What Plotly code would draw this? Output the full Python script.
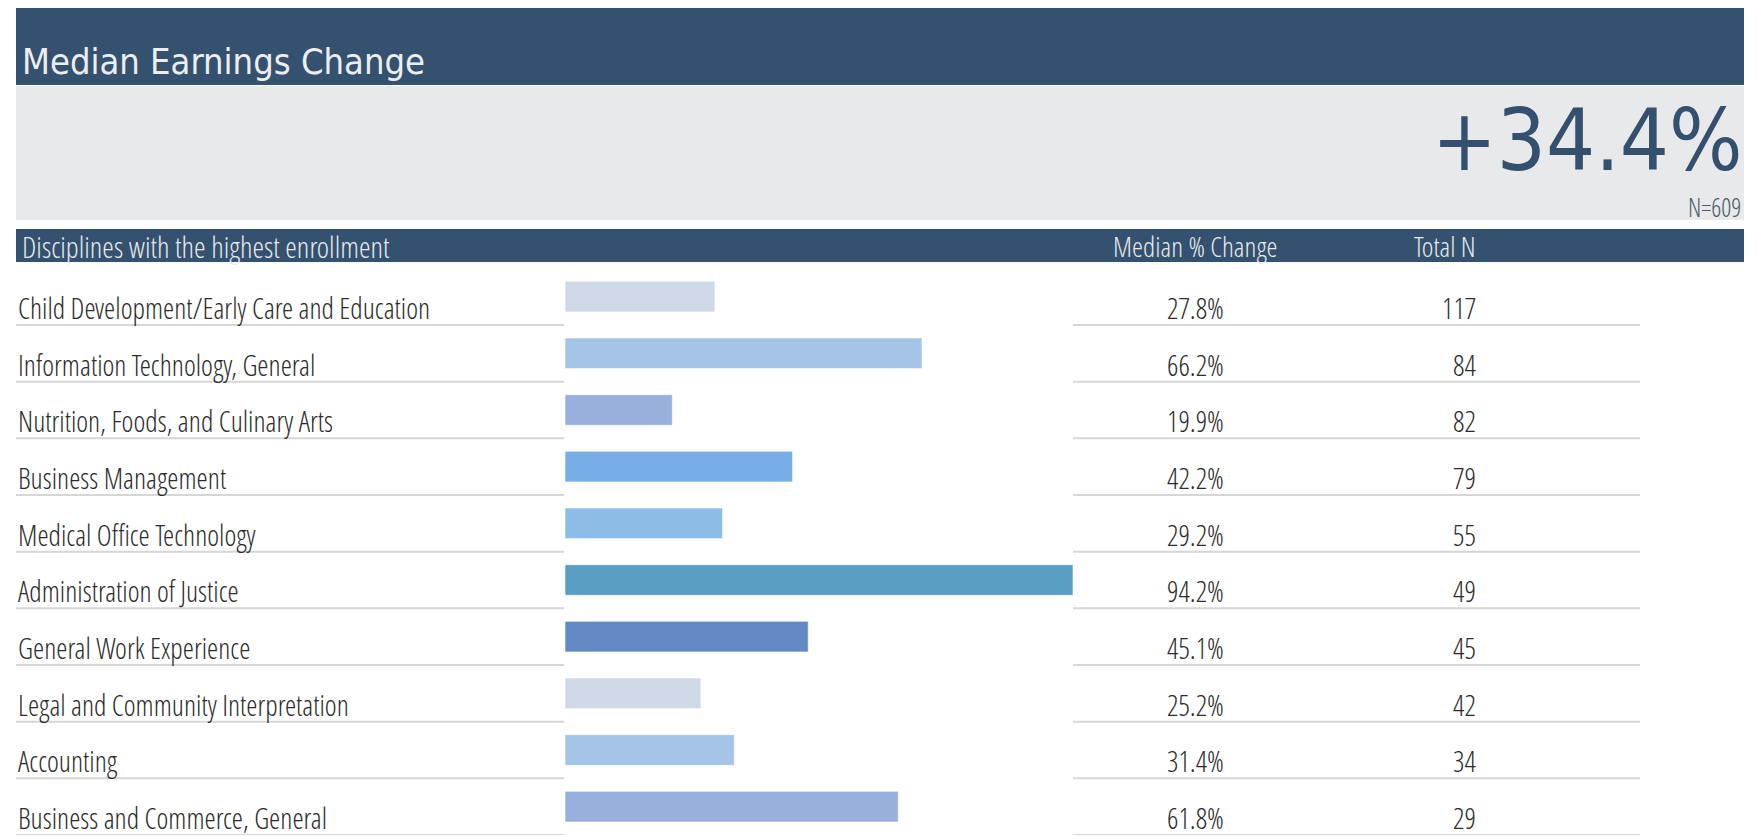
import plotly.graph_objects as go

# ---------------- data ----------------
title_text = "Median Earnings Change"
headline_value = "+34.4%"
headline_n = "N=609"
header_label = "Disciplines with the highest enrollment"
header_pct = "Median % Change"
header_n = "Total N"

disciplines = [
    "Child Development/Early Care and Education",
    "Information Technology, General",
    "Nutrition, Foods, and Culinary Arts",
    "Business Management",
    "Medical Office Technology",
    "Administration of Justice",
    "General Work Experience",
    "Legal and Community Interpretation",
    "Accounting",
    "Business and Commerce, General",
]
median_pct_change = [27.8, 66.2, 19.9, 42.2, 29.2, 94.2, 45.1, 25.2, 31.4, 61.8]
total_n = [117, 84, 82, 79, 55, 49, 45, 42, 34, 29]
bar_colors = ["#cfd8e7", "#a4c4e8", "#98b0db", "#79ade5", "#8bbde6",
              "#5a9ec3", "#6389c4", "#cfd8e7", "#a4c4e8", "#98b0db"]

# ---------------- layout constants (page pixels) ----------------
W, H = 1758, 836
OFF = 8  # page body margin around the figure


def fx(px):
    return (px - OFF) / W


def fy(py):
    return 1 - (py - OFF) / H


DARK = "#34516f"
PANEL = "#e8e9eb"
TEXT = "#2b2b2b"
LABEL_FONT = "Open Sans Condensed Light"
HEAD_FONT = "DejaVu Sans Condensed"

ROW_TOP, ROW_BOTTOM = 268.3, 835
BAR_X0, BAR_X1 = 565, 1073
n = len(disciplines)

fig = go.Figure(go.Bar(
    x=median_pct_change,
    y=disciplines,
    orientation="h",
    width=0.54,
    marker=dict(color=bar_colors, line=dict(width=1, color="rgba(255,255,255,0.6)")),
    hovertemplate="%{y}: %{x:.1f}%<extra></extra>",
))

fig.update_xaxes(domain=[fx(BAR_X0), fx(BAR_X1)], range=[0, max(median_pct_change)],
                 visible=False, fixedrange=True)
fig.update_yaxes(domain=[fy(ROW_BOTTOM), fy(ROW_TOP)], type="category",
                 categoryorder="array", categoryarray=disciplines,
                 range=[n - 0.5, -0.5], visible=False, fixedrange=True)

shapes = [
    dict(type="rect", xref="paper", yref="paper", x0=fx(16), x1=fx(1744), y0=fy(85), y1=1,
         fillcolor=DARK, line=dict(width=0), layer="below"),
    dict(type="rect", xref="paper", yref="paper", x0=fx(16), x1=fx(1744), y0=fy(220), y1=fy(86),
         fillcolor=PANEL, line=dict(width=0), layer="below"),
    dict(type="rect", xref="paper", yref="paper", x0=fx(16), x1=fx(1744), y0=fy(262), y1=fy(229),
         fillcolor=DARK, line=dict(width=0), layer="below"),
]
for i in range(n):
    for x0, x1 in ((16, 564), (1073, 1640)):
        shapes.append(dict(type="line", xref="paper", yref="y", x0=fx(x0), x1=fx(x1),
                           y0=i + 0.5, y1=i + 0.5, line=dict(color="#d6d6d6", width=2)))

ann = [
    dict(text=title_text, x=fx(20), y=fy(61), xanchor="left", yanchor="middle",
         font=dict(family=HEAD_FONT, size=36, color="#eceef1")),
    dict(text=headline_value, x=fx(1745), y=fy(140), xanchor="right", yanchor="middle",
         font=dict(family=HEAD_FONT, size=86, color="#34506e")),
    dict(text=headline_n, x=fx(1743), y=fy(207), xanchor="right", yanchor="middle",
         font=dict(family=LABEL_FONT, size=25, color="#4d5966")),
    dict(text=header_label, x=fx(20), y=fy(246), xanchor="left", yanchor="middle",
         font=dict(family=LABEL_FONT, size=29.5, color="#e6e9ee")),
    dict(text=header_pct, x=fx(1195), y=fy(246), xanchor="center", yanchor="middle",
         font=dict(family=LABEL_FONT, size=28, color="#e6e9ee")),
    dict(text=header_n, x=fx(1478), y=fy(246), xanchor="right", yanchor="middle",
         font=dict(family=LABEL_FONT, size=28, color="#e6e9ee")),
]
for a in ann:
    a.update(xref="paper", yref="paper", showarrow=False)

for i, (name, pct, cnt) in enumerate(zip(disciplines, median_pct_change, total_n)):
    common = dict(xref="paper", yref="y", y=i + 0.5, yanchor="bottom", yshift=-4,
                  showarrow=False, font=dict(family=LABEL_FONT, size=28.5, color=TEXT))
    ann.append(dict(text=name, x=fx(16), xanchor="left", **common))
    ann.append(dict(text=f"{pct:.1f}%", x=fx(1195), xanchor="center", **common))
    ann.append(dict(text=str(cnt), x=fx(1478), xanchor="right", **common))

fig.update_layout(width=W, height=H, margin=dict(l=0, r=0, t=0, b=0),
                  paper_bgcolor="white", plot_bgcolor="rgba(0,0,0,0)",
                  showlegend=False, shapes=shapes, annotations=ann)
fig.write_html("out.html")
